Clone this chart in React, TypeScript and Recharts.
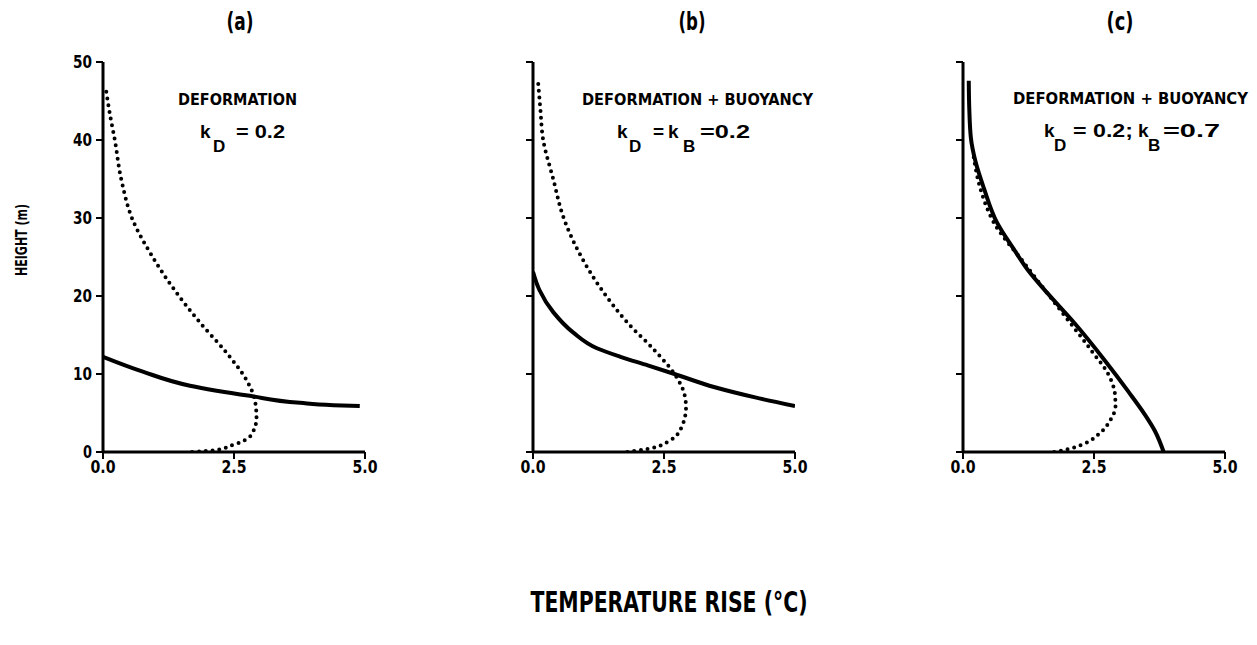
import React from 'react';
import { LineChart, Line, XAxis, YAxis } from 'recharts';

type Pt = { t: number; h: number };

// ---------- data ----------
const panelTitles = ['(a)', '(b)', '(c)'];
const panelHeadings = ['DEFORMATION', 'DEFORMATION + BUOYANCY', 'DEFORMATION + BUOYANCY'];
const tempTicks = [0, 2.5, 5];
const tempTickLabels = ['0.0', '2.5', '5.0'];
const heightTicks = [0, 10, 20, 30, 40, 50];
const heightTickLabels = ['0', '10', '20', '30', '40', '50'];
const xAxisTitle = 'TEMPERATURE RISE (°C)';
const yAxisTitle = 'HEIGHT (m)';

// model (solid) profiles, ordered by height: t = temperature rise (°C), h = height (m)
const modelA: Pt[] = [
  { t: 4.9, h: 5.9 }, { t: 4.4, h: 6.0 }, { t: 3.76, h: 6.3 }, { t: 2.8, h: 7.2 },
  { t: 1.66, h: 8.5 }, { t: 0.76, h: 10.3 }, { t: 0, h: 12.2 },
];
const modelB: Pt[] = [
  { t: 5.0, h: 5.9 }, { t: 4.24, h: 7.0 }, { t: 3.47, h: 8.3 }, { t: 2.7, h: 10.0 },
  { t: 2.19, h: 11.1 }, { t: 1.67, h: 12.2 }, { t: 1.22, h: 13.3 }, { t: 0.77, h: 15.3 },
  { t: 0.39, h: 17.9 }, { t: 0.12, h: 20.8 }, { t: 0, h: 23.1 },
];
const modelC: Pt[] = [
  { t: 3.83, h: 0 }, { t: 3.67, h: 2.6 }, { t: 3.47, h: 4.8 }, { t: 3.15, h: 7.8 },
  { t: 2.71, h: 11.7 }, { t: 2.13, h: 16.5 }, { t: 1.62, h: 20.3 }, { t: 1.23, h: 23.4 },
  { t: 0.97, h: 26.0 }, { t: 0.65, h: 29.4 }, { t: 0.4, h: 33.8 }, { t: 0.24, h: 37.2 },
  { t: 0.15, h: 40.3 }, { t: 0.12, h: 44 }, { t: 0.11, h: 47.6 },
];

// observed (dotted) profiles
const observedA: Pt[] = [
  { t: 1.7, h: 0 }, { t: 2.1, h: 0.2 }, { t: 2.48, h: 0.9 }, { t: 2.83, h: 2.2 },
  { t: 2.93, h: 4.4 }, { t: 2.9, h: 6.6 }, { t: 2.74, h: 9.2 }, { t: 2.36, h: 12.7 },
  { t: 1.85, h: 16.6 }, { t: 1.34, h: 21.0 }, { t: 0.92, h: 25.3 }, { t: 0.57, h: 29.7 },
  { t: 0.35, h: 34.9 }, { t: 0.22, h: 40.2 }, { t: 0.14, h: 43 }, { t: 0.06, h: 46.3 },
];
const observedB: Pt[] = [
  { t: 1.8, h: 0 }, { t: 2.19, h: 0.4 }, { t: 2.57, h: 1.3 }, { t: 2.83, h: 3.1 },
  { t: 2.92, h: 5.7 }, { t: 2.89, h: 7.4 }, { t: 2.7, h: 10.0 }, { t: 2.31, h: 13.1 },
  { t: 1.8, h: 16.6 }, { t: 1.29, h: 21.0 }, { t: 0.9, h: 25.3 }, { t: 0.58, h: 30.1 },
  { t: 0.39, h: 34.9 }, { t: 0.19, h: 40.2 }, { t: 0.14, h: 44 }, { t: 0.1, h: 47.2 },
];
const observedC: Pt[] = [
  { t: 1.74, h: 0 }, { t: 2.0, h: 0.35 }, { t: 2.32, h: 1.1 }, { t: 2.64, h: 2.6 },
  { t: 2.83, h: 4.3 }, { t: 2.91, h: 5.8 }, { t: 2.9, h: 7.4 }, { t: 2.77, h: 10.0 },
  { t: 2.45, h: 13.0 }, { t: 1.81, h: 18.6 }, { t: 1.17, h: 24.2 }, { t: 0.59, h: 29.4 },
  { t: 0.33, h: 33.8 }, { t: 0.2, h: 38 },
];

const models = [modelA, modelB, modelC];
const observed = [observedA, observedB, observedC];

// ---------- style ----------
const CONDENSED = "'Liberation Sans Narrow', 'DejaVu Sans Condensed', 'Roboto Condensed', 'Liberation Sans', Arial, sans-serif";
const ROUND = "'Liberation Sans', 'DejaVu Sans', Arial, sans-serif";
const panelLeft = [0, 430, 860];
const CH_W = 420;
const CH_H = 645;

const XTick = (props: any) => {
  const { x, y, payload } = props;
  const i = tempTicks.indexOf(payload.value);
  return (
    <text x={x} y={y + 10} textAnchor="middle" fontFamily={CONDENSED} fontWeight="bold"
      fontSize={17} fill="#000" textLength={25} lengthAdjust="spacingAndGlyphs">
      {tempTickLabels[i]}
    </text>
  );
};

const YTick = (props: any) => {
  const { x, y, payload } = props;
  const i = heightTicks.indexOf(payload.value);
  const label = heightTickLabels[i];
  return (
    <text x={x} y={y + 6} textAnchor="end" fontFamily={CONDENSED} fontWeight="bold"
      fontSize={17} fill="#000" textLength={label.length > 1 ? 19 : 9} lengthAdjust="spacingAndGlyphs">
      {label}
    </text>
  );
};

const EmptyTick = () => <g />;

function Panel({ idx }: { idx: number }) {
  return (
    <div style={{ position: 'absolute', left: panelLeft[idx], top: 0, width: CH_W, height: CH_H }}>
      <LineChart width={CH_W} height={CH_H} margin={{ top: 62, right: 55, bottom: 163, left: 63 }}>
        <XAxis
          type="number" dataKey="t" domain={[0, 5]} ticks={tempTicks} allowDataOverflow
          height={30} tickSize={7} tickMargin={4}
          axisLine={{ stroke: '#000', strokeWidth: 3 }}
          tickLine={{ stroke: '#000', strokeWidth: 2 }}
          tick={<XTick />}
        />
        <YAxis
          type="number" dataKey="h" domain={[0, 50]} ticks={heightTicks} allowDataOverflow
          width={40} tickSize={7} tickMargin={4}
          axisLine={{ stroke: '#000', strokeWidth: 3 }}
          tickLine={{ stroke: '#000', strokeWidth: 2 }}
          tick={idx === 0 ? <YTick /> : <EmptyTick />}
        />
        <Line data={observed[idx]} dataKey="h" type="monotoneY" stroke="#000" strokeWidth={4}
          strokeDasharray="0 6.8" strokeLinecap="round" dot={false} activeDot={false}
          isAnimationActive={false} />
        <Line data={models[idx]} dataKey="h" type="monotoneY" stroke="#000" strokeWidth={4}
          dot={false} activeDot={false} isAnimationActive={false} />
      </LineChart>
    </div>
  );
}

export default function App() {
  const big = { fontFamily: ROUND, fontWeight: 'bold' as const, fontSize: 19, fill: '#000' };
  const small = { fontFamily: ROUND, fontWeight: 'bold' as const, fontSize: 17, fill: '#000' };
  const cond = { fontFamily: CONDENSED, fontWeight: 'bold' as const, fill: '#000', lengthAdjust: 'spacingAndGlyphs' };
  return (
    <div style={{ position: 'absolute', left: 0, top: 0, width: 1257, height: 645, background: '#fff', overflow: 'hidden' }}>
      {[0, 1, 2].map((i) => <Panel key={i} idx={i} />)}
      <svg width={1257} height={645} style={{ position: 'absolute', left: 0, top: 0, pointerEvents: 'none' }}>
        {/* panel titles */}
        <text x={240} y={30} textAnchor="middle" fontSize={25} textLength={27} {...cond}>{panelTitles[0]}</text>
        <text x={692} y={30} textAnchor="middle" fontSize={25} textLength={27} {...cond}>{panelTitles[1]}</text>
        <text x={1120} y={30} textAnchor="middle" fontSize={25} textLength={27} {...cond}>{panelTitles[2]}</text>

        {/* headings */}
        <text x={178} y={105} fontSize={16} textLength={119} {...cond}>{panelHeadings[0]}</text>
        <text x={582} y={105} fontSize={16} textLength={231} {...cond}>{panelHeadings[1]}</text>
        <text x={1013} y={104} fontSize={16} textLength={235} {...cond}>{panelHeadings[2]}</text>

        {/* k_D = 0.2 */}
        <text x={200} y={138} {...big}>k</text>
        <text x={213} y={152} {...small}>D</text>
        <text x={236} y={138} textLength={49} lengthAdjust="spacingAndGlyphs" {...big}>= 0.2</text>

        {/* k_D = k_B = 0.2 */}
        <text x={617} y={138} {...big}>k</text>
        <text x={629} y={152} {...small}>D</text>
        <text x={653} y={138} {...big}>=</text>
        <text x={668} y={138} {...big}>k</text>
        <text x={683} y={152} {...small}>B</text>
        <text x={700} y={138} textLength={50} lengthAdjust="spacingAndGlyphs" {...big}>=0.2</text>

        {/* k_D = 0.2; k_B = 0.7 */}
        <text x={1044} y={137} {...big}>k</text>
        <text x={1054} y={151} {...small}>D</text>
        <text x={1073} y={137} textLength={60} lengthAdjust="spacingAndGlyphs" {...big}>= 0.2;</text>
        <text x={1138} y={137} {...big}>k</text>
        <text x={1148} y={151} {...small}>B</text>
        <text x={1163} y={137} textLength={57} lengthAdjust="spacingAndGlyphs" {...big}>=0.7</text>

        {/* axis titles */}
        <text x={0} y={0} transform="translate(27,240) rotate(-90)" textAnchor="middle"
          fontSize={15} textLength={72} {...cond}>{yAxisTitle}</text>
        <text x={669} y={612} textAnchor="middle" fontSize={28} textLength={277} {...cond}>{xAxisTitle}</text>
      </svg>
    </div>
  );
}
